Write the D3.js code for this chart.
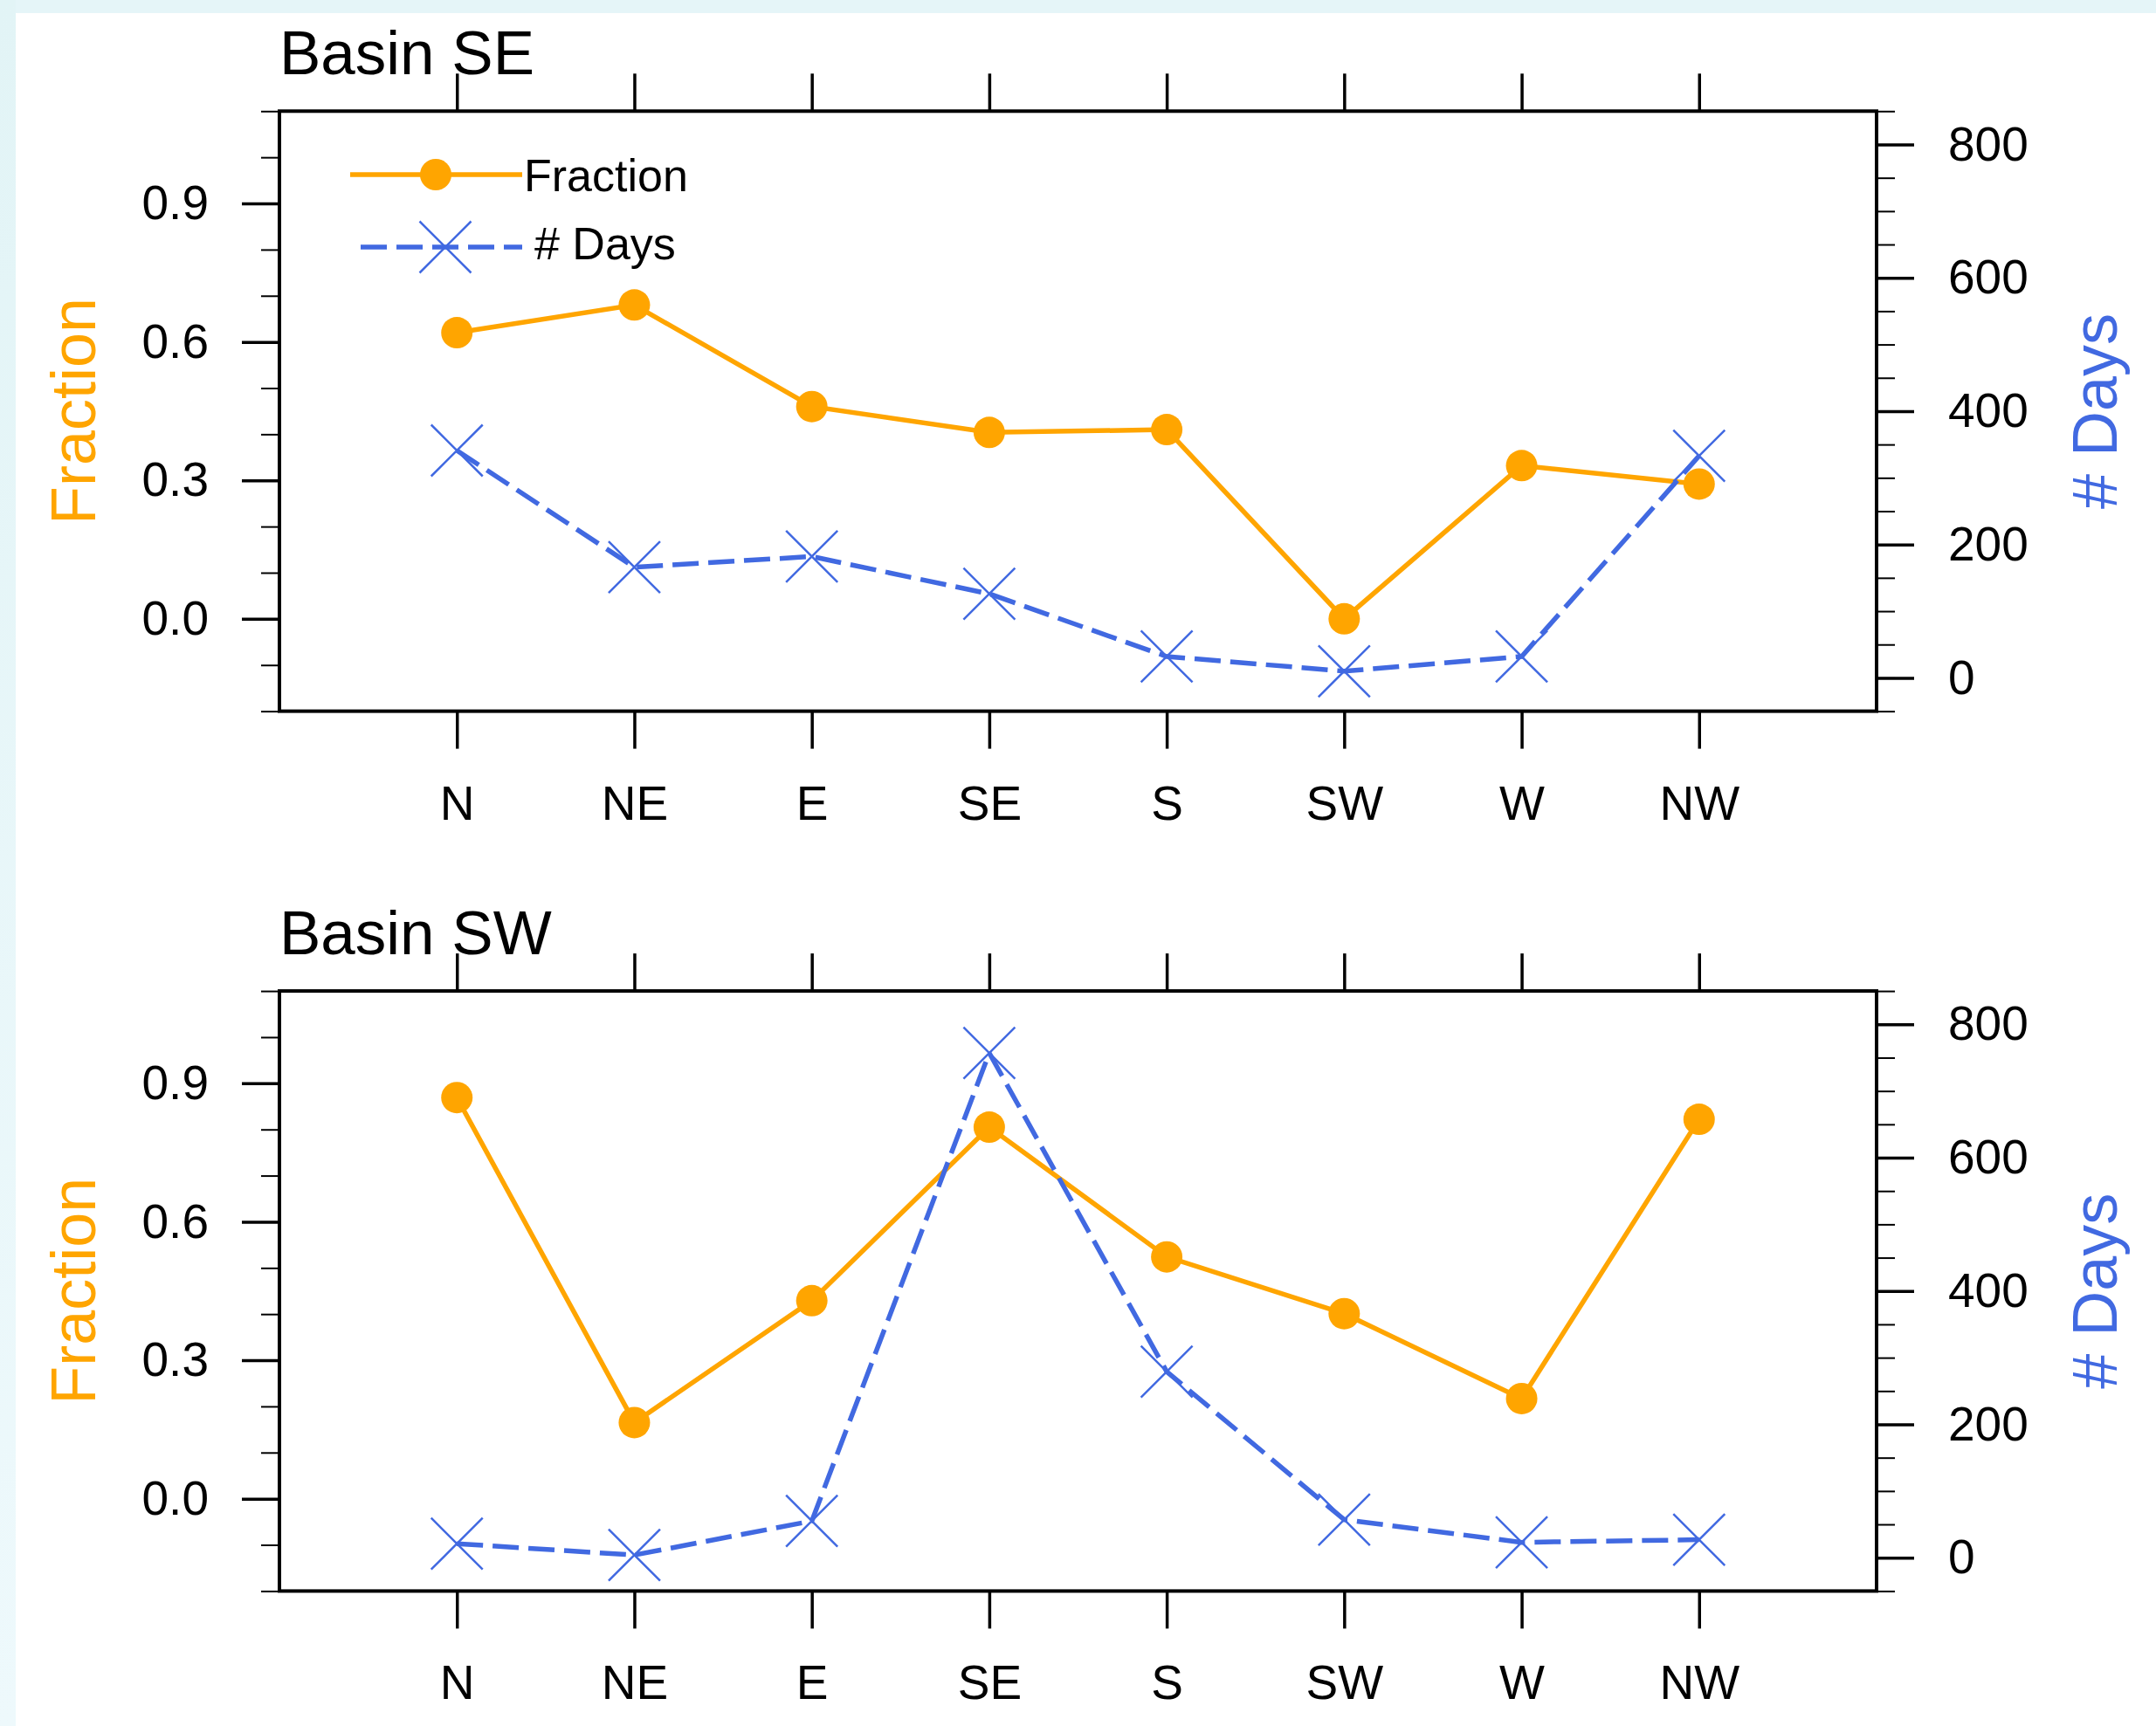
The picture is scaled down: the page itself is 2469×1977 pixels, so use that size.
<!DOCTYPE html>
<html>
<head>
<meta charset="utf-8">
<script src="https://cdn.jsdelivr.net/npm/d3@7"></script>
<style>
  html, body { margin: 0; padding: 0; background: #fff; }
  svg { display: block; font-family: "Liberation Sans", Arial, Helvetica, sans-serif; }
</style>
</head>
<body>
<div id="chart"></div>
<script>
// data
const directions = ["N", "NE", "E", "SE", "S", "SW", "W", "NW"];
const fracTicks = [0.0, 0.3, 0.6, 0.9];
const fracMinor = [-0.2, -0.1, 0.0, 0.1, 0.2, 0.3, 0.4, 0.5, 0.6, 0.7, 0.8, 0.9, 1.0, 1.1];
const dayTicks = [0, 200, 400, 600, 800];
const dayMinor = [-50, 0, 50, 100, 150, 200, 250, 300, 350, 400, 450, 500, 550, 600, 650, 700, 750, 800, 850];

const seFraction = [0.62, 0.68, 0.46, 0.404, 0.41, 0.0, 0.332, 0.292];
const seDays = [341, 166, 182, 126, 32, 10, 32, 333];
const swFraction = [0.869, 0.165, 0.429, 0.805, 0.524, 0.401, 0.217, 0.822];
const swDays = [21, 4, 55, 757, 279, 57, 23, 27];

const panels = [
    { title: "Basin SE", fraction: seFraction, days: seDays, top: 127.3, legend: true },
    { title: "Basin SW", fraction: swFraction, days: swDays, top: 1135.1, legend: false }
];

// constants
const width = 2469, height = 1977,
    left = 320, right = 2149, plotH = 687.3,
    orange = "#FFA500", blue = "#4169E1";

let svg = d3.select("#chart").append("svg")
    .attr("width", width)
    .attr("height", height);

// background with the pale border on the top and left
let defs = svg.append("defs");
let g1 = defs.append("linearGradient").attr("id", "bandL").attr("x1", 0).attr("y1", 0).attr("x2", 0).attr("y2", 1);
g1.append("stop").attr("offset", "0%").attr("stop-color", "#e2f4f6");
g1.append("stop").attr("offset", "100%").attr("stop-color", "#eef9fc");
svg.append("rect").attr("width", width).attr("height", height).attr("fill", "#fff");
svg.append("rect").attr("width", width).attr("height", 15).attr("fill", "#e5f5f8");
svg.append("rect").attr("width", 18).attr("height", height).attr("fill", "url(#bandL)");

const x = d3.scalePoint().domain(directions).range([left, right]).padding(1);
const yL = d3.scaleLinear().domain([-0.2, 1.1]).range([plotH, 0]);
const yR = d3.scaleLinear().domain([-50, 850]).range([plotH, 0]);

function styleAxis(sel, w) {
    sel.select(".domain").remove();
    sel.selectAll("line").attr("stroke", "#000").attr("stroke-width", w);
    sel.selectAll("text").attr("fill", "#000").style("font-size", "55px")
        .attr("font-family", "Liberation Sans, Arial, sans-serif");
}

panels.forEach(p => {
    let g = svg.append("g").attr("transform", `translate(0, ${p.top})`);

    // left axis: minor then major
    g.append("g").attr("transform", `translate(${left}, 0)`)
        .call(d3.axisLeft(yL).tickValues(fracMinor).tickSize(21).tickFormat(""))
        .call(s => styleAxis(s, 2));
    g.append("g").attr("transform", `translate(${left}, 0)`)
        .call(d3.axisLeft(yL).tickValues(fracTicks).tickSize(43).tickPadding(38).tickFormat(d3.format(".1f")))
        .call(s => styleAxis(s, 3.5));

    // right axis
    g.append("g").attr("transform", `translate(${right}, 0)`)
        .call(d3.axisRight(yR).tickValues(dayMinor).tickSize(21).tickFormat(""))
        .call(s => styleAxis(s, 2));
    g.append("g").attr("transform", `translate(${right}, 0)`)
        .call(d3.axisRight(yR).tickValues(dayTicks).tickSize(43).tickPadding(39).tickFormat(d3.format("d")))
        .call(s => styleAxis(s, 3.5));

    // bottom and top axes
    g.append("g").attr("transform", `translate(0, ${plotH})`)
        .call(d3.axisBottom(x).tickSize(43).tickPadding(42))
        .call(s => styleAxis(s, 3.5));
    g.append("g")
        .call(d3.axisTop(x).tickSize(43).tickFormat(""))
        .call(s => styleAxis(s, 3.5));

    // frame
    g.append("rect").attr("x", left).attr("y", 0)
        .attr("width", right - left).attr("height", plotH)
        .attr("fill", "none").attr("stroke", "#000").attr("stroke-width", 4);

    // title
    g.append("text").text(p.title)
        .attr("x", left).attr("y", -42)
        .style("font-size", "71px").attr("fill", "#000");

    // axis titles
    g.append("text").text("Fraction")
        .attr("transform", `translate(109, ${plotH / 2}) rotate(-90)`)
        .attr("text-anchor", "middle")
        .style("font-size", "72px").attr("fill", orange);
    g.append("text").text("# Days")
        .attr("transform", `translate(2424, ${plotH / 2}) rotate(-90)`)
        .attr("text-anchor", "middle")
        .style("font-size", "72px").attr("fill", blue);

    // fraction line and dots
    let fracLine = d3.line().x((d, i) => x(directions[i])).y(d => yL(d));
    g.append("path").datum(p.fraction).attr("d", fracLine)
        .attr("fill", "none").attr("stroke", orange).attr("stroke-width", 5.5);
    g.selectAll(".dot").data(p.fraction).enter().append("circle")
        .attr("class", "dot")
        .attr("cx", (d, i) => x(directions[i]))
        .attr("cy", d => yL(d))
        .attr("r", 18).attr("fill", orange);

    // days line and crosses
    let dayLine = d3.line().x((d, i) => x(directions[i])).y(d => yR(d));
    g.append("path").datum(p.days).attr("d", dayLine)
        .attr("fill", "none").attr("stroke", blue).attr("stroke-width", 5.5)
        .attr("stroke-dasharray", "30,11");
    let cross = g.selectAll(".cross").data(p.days).enter().append("g")
        .attr("class", "cross")
        .attr("transform", (d, i) => `translate(${x(directions[i])}, ${yR(d)})`);
    cross.append("path").attr("d", "M-29.5,-29.5L29.5,29.5M-29.5,29.5L29.5,-29.5")
        .attr("stroke", blue).attr("stroke-width", 2.5);

    if (p.legend) {
        let lg = g.append("g");
        lg.append("line").attr("x1", 401).attr("x2", 598).attr("y1", 200 - p.top).attr("y2", 200 - p.top)
            .attr("stroke", orange).attr("stroke-width", 5.5);
        lg.append("circle").attr("cx", 499).attr("cy", 200 - p.top).attr("r", 18).attr("fill", orange);
        lg.append("text").text("Fraction").attr("x", 600).attr("y", 219 - p.top)
            .style("font-size", "52px").attr("fill", "#000");

        lg.append("line").attr("x1", 413).attr("x2", 598).attr("y1", 283 - p.top).attr("y2", 283 - p.top)
            .attr("stroke", blue).attr("stroke-width", 5.5).attr("stroke-dasharray", "30,11");
        lg.append("path").attr("transform", `translate(510, ${283 - p.top})`)
            .attr("d", "M-29.5,-29.5L29.5,29.5M-29.5,29.5L29.5,-29.5")
            .attr("stroke", blue).attr("stroke-width", 2.5);
        lg.append("text").text("# Days").attr("x", 612).attr("y", 297 - p.top)
            .style("font-size", "52px").attr("fill", "#000");
    }
});
</script>
</body>
</html>
